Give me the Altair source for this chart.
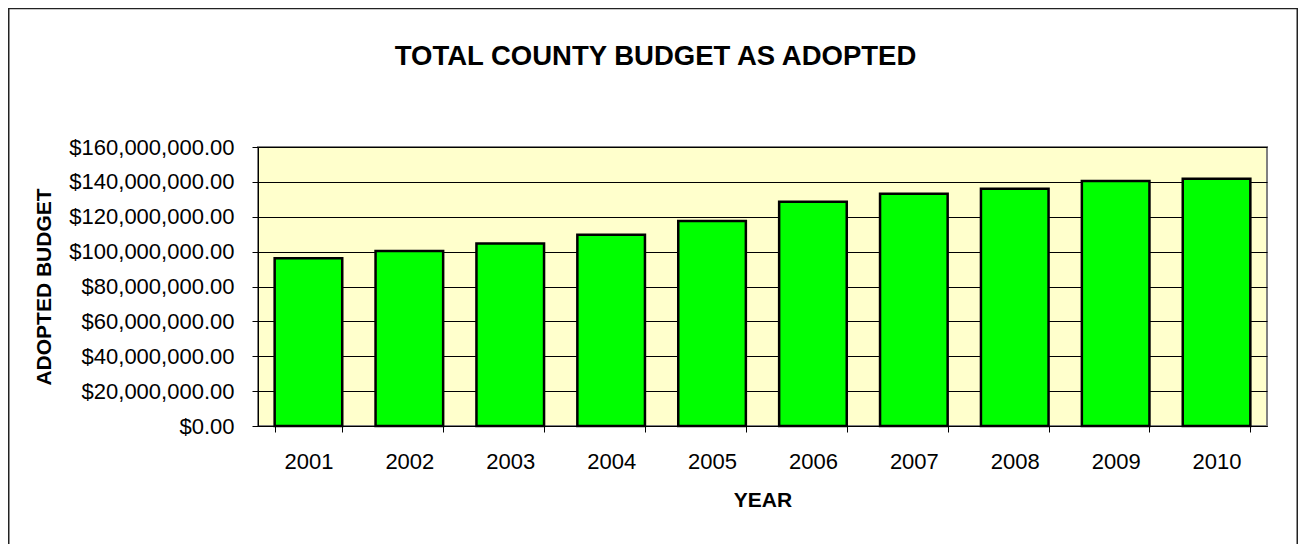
import altair as alt
import pandas as pd

years = ["2001", "2002", "2003", "2004", "2005", "2006", "2007", "2008", "2009", "2010"]
budget = [96200000, 100400000, 104600000, 109700000, 117500000,
          128600000, 133200000, 136100000, 140500000, 141800000]

df = pd.DataFrame({"year": years, "budget": budget})
FONT = "Liberation Sans"

bars = alt.Chart(df).mark_bar(
    fill="#00FF00", stroke="#000000", strokeWidth=2.5
).encode(
    x=alt.X("year:O",
            scale=alt.Scale(paddingInner=0.33, paddingOuter=0.165, round=False),
            axis=alt.Axis(title="YEAR", labelAngle=0, tickBand="extent",
                          labelFontSize=22, labelPadding=19, tickSize=6,
                          titleFontSize=21, titleFontWeight="bold",
                          titleY=63, titleBaseline="top",
                          domainColor="#000000", tickColor="#000000",
                          labelColor="#000000", titleColor="#000000",
                          grid=False)),
    y=alt.Y("budget:Q",
            scale=alt.Scale(domain=[0, 160000000], nice=False),
            axis=alt.Axis(title="ADOPTED BUDGET", format="$,.2f",
                          values=[0, 20000000, 40000000, 60000000, 80000000,
                                  100000000, 120000000, 140000000, 160000000],
                          labelFontSize=22, labelPadding=18, tickSize=6,
                          titleFontSize=21, titleFontWeight="bold",
                          titleX=-214, titleY=139.5, titleAngle=-90,
                          titleBaseline="middle", titleAlign="center",
                          grid=True, gridColor="#000000", gridWidth=1,
                          domainColor="#000000", tickColor="#000000",
                          labelColor="#000000", titleColor="#000000")),
)

frame = alt.Chart(pd.DataFrame({"a": [0]})).mark_rect(
    filled=False, stroke="#222222", strokeWidth=1.5
).encode(
    x=alt.value(-249.25), x2=alt.value(1039.25),
    y=alt.value(-138.5), y2=alt.value(440),
)

chart = alt.layer(bars, frame).properties(
    width=1009, height=279,
    title=alt.TitleParams("TOTAL COUNTY BUDGET AS ADOPTED", fontSize=27.5,
                          fontWeight="bold", font=FONT, color="#000000",
                          anchor="middle", frame="group", dx=-107, offset=-63),
    autosize=alt.AutoSizeParams(type="none"),
    padding={"left": 250, "top": 139, "right": 31, "bottom": 118},
).configure(
    font=FONT,
).configure_view(
    fill="#FFFFCC", stroke="#808080", strokeWidth=2
).configure_axis(
    labelFont=FONT, titleFont=FONT
)

chart.save("out.html", embed_options={"renderer": "svg", "actions": False})
